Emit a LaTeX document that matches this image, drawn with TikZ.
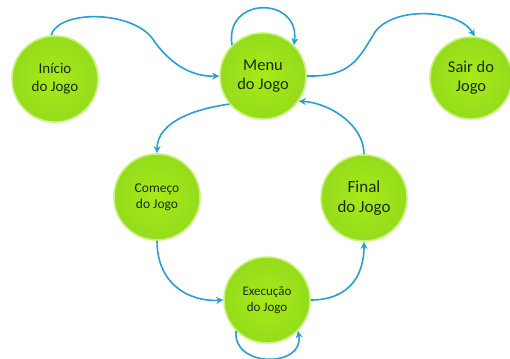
\documentclass[tikz,border=0pt]{standalone}
\usepackage{fontspec}
\setmainfont{Carlito}
\usepackage{tikz}
\usetikzlibrary{arrows.meta,shapes,positioning,shadings}
\definecolor{estadoverde}{RGB}{168,234,24}
\definecolor{estadofundo}{RGB}{148,220,28}
\definecolor{estadoborda}{RGB}{200,242,120}
\definecolor{estadotexto}{RGB}{28,42,6}
\definecolor{setaazul}{RGB}{40,160,215}
\tikzset{
    raw state/.style={circle, minimum size=86pt, inner sep=0pt, align=center,
        draw=estadoborda, line width=1.6pt, inner color=estadoverde,
        outer color=estadofundo, text=estadotexto},
    state/.style={raw state, font=\fontsize{15}{18}\selectfont},
    state big/.style={raw state, font=\fontsize{16.5}{19}\selectfont},
    state small/.style={raw state, font=\fontsize{13.5}{16}\selectfont},
    link/.style={->, setaazul, line width=1.6pt}
}

\begin{document}
\begin{tikzpicture}[x=1pt,y=-1pt,>={Stealth[length=7pt,width=7pt]}]
	\useasboundingbox (0,0) rectangle (510,358);
		% estados
		\node[state] (inicio) at (55,79) {Início\\do Jogo};
		\node[state big] (menu) at (263,76) {Menu\\do Jogo};
		\node[state big, minimum size=82pt] (sair) at (471,78) {Sair do\\Jogo};
		\node[state small] (comeco) at (157,197) {Começo\\do Jogo};
		\node[state big, font=\fontsize{17}{20}\selectfont] (final) at (364,198) {Final\\do Jogo};
		\node[state small, font=\fontsize{13}{16}\selectfont] (execucao) at (267,300) {Execução\\do Jogo};
		% transicoes
		\draw[link] (inicio.95) .. controls (58,10) and (130,10) .. (152,38)
			.. controls (168,62) and (190,77) .. (menu.west);
		\draw[link] (menu.135) .. controls (224,-4) and (300,-4) .. (menu.45);
		\draw[link] (menu.east) .. controls (350,77) and (358,60) .. (375,32)
			.. controls (395,5) and (460,10) .. (sair.85);
		\draw[link] (menu.220) .. controls (200,108) and (157,120) .. (comeco.north);
		\draw[link] (final.north) .. controls (364,125) and (330,103) .. (menu.-35);
		\draw[link] (comeco.south) .. controls (157,285) and (190,302) .. (execucao.west);
		\draw[link] (execucao.east) .. controls (345,300) and (364,280) .. (final.south);
		\draw[link] (execucao.225) .. controls (232,368) and (305,368) .. (execucao.-45);
	\end{tikzpicture}
\end{document}
